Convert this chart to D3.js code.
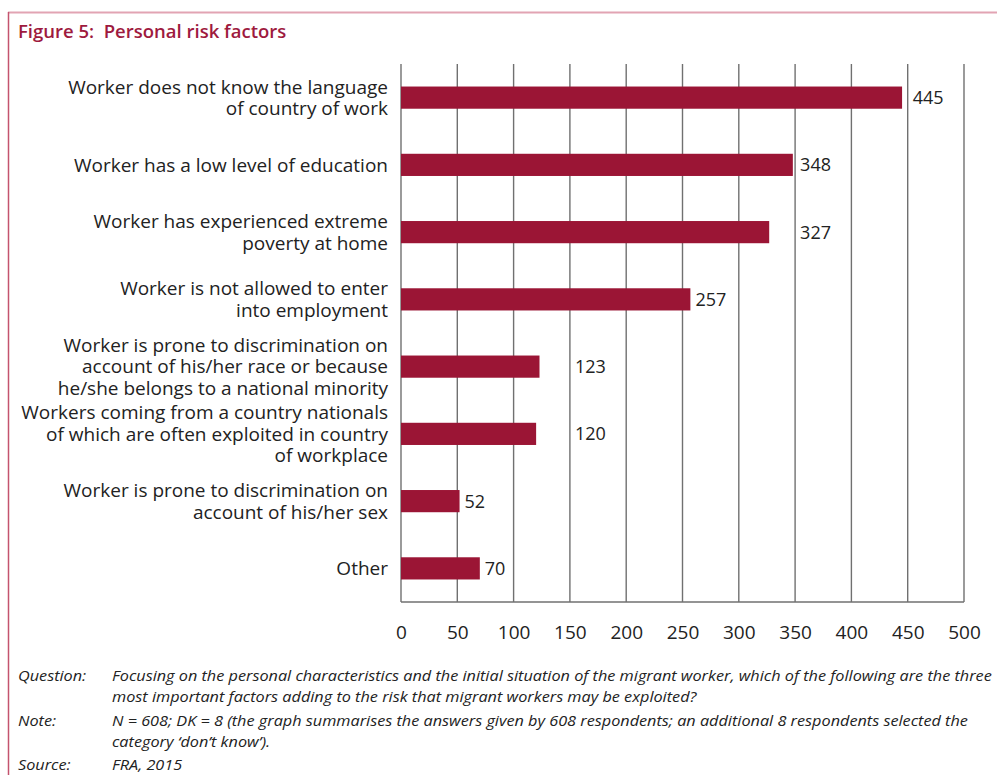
<!DOCTYPE html>
<html>
<head>
<meta charset="utf-8">
<script src="https://cdn.jsdelivr.net/npm/d3@7"></script>
<style>
  html, body { margin: 0; padding: 0; background: #fff; }
  svg { display: block; }
  text { font-family: "Open Sans", "Noto Sans", sans-serif; }
</style>
</head>
<body>
<script>
// ---------------- DATA ----------------
const categories = [
  ["Worker does not know the language", "of country of work"],
  ["Worker has a low level of education"],
  ["Worker has experienced extreme", "poverty at home"],
  ["Worker is not allowed to enter", "into employment"],
  ["Worker is prone to discrimination on", "account of his/her race or because", "he/she belongs to a national minority"],
  ["Workers coming from a country nationals", "of which are often exploited in country", "of workplace"],
  ["Worker is prone to discrimination on", "account of his/her sex"],
  ["Other"]
];
const values = [445, 348, 327, 257, 123, 120, 52, 70];
const xTicks = [0, 50, 100, 150, 200, 250, 300, 350, 400, 450, 500];
const titleText = "Figure 5:  Personal risk factors";
const footnotes = [
  { label: "Question:", lines: ["Focusing on the personal characteristics and the initial situation of the migrant worker, which of the following are the three", "most important factors adding to the risk that migrant workers may be exploited?"] },
  { label: "Note:", lines: ["N = 608; DK = 8 (the graph summarises the answers given by 608 respondents; an additional 8 respondents selected the", "category \u2018don\u2019t know\u2019)."] },
  { label: "Source:", lines: ["FRA, 2015"] }
];

// ---------------- LAYOUT ----------------
const W = 997, H = 775;
const plot = { left: 401, right: 964, top: 64, bottom: 602 };
const barColor = "#9b1535";
const gridColor = "#707070";

const svg = d3.select("body").append("svg").attr("width", W).attr("height", H);

// frame
svg.append("line").attr("x1", 8).attr("x2", W).attr("y1", 12.5).attr("y2", 12.5)
  .attr("stroke", "#e2a4b3").attr("stroke-width", 2);
svg.append("line").attr("x1", 8.5).attr("x2", 8.5).attr("y1", 12).attr("y2", H)
  .attr("stroke", "#c4536e").attr("stroke-width", 1.5);

// title
svg.append("text").attr("x", 18).attr("y", 38)
  .attr("fill", "#9e1a3e").attr("font-size", 18.5).attr("font-weight", 600)
  .style("white-space", "pre")
  .text(titleText);

const x = d3.scaleLinear().domain([0, 500]).range([plot.left, plot.right]);
const y = d3.scaleBand().domain(d3.range(categories.length))
  .range([plot.top, plot.bottom]).paddingInner(0.67).paddingOuter(0.335);

// gridlines
const g = svg.append("g");
g.selectAll("line.grid").data(xTicks).join("line")
  .attr("class", "grid")
  .attr("x1", d => x(d)).attr("x2", d => x(d))
  .attr("y1", plot.top).attr("y2", plot.bottom)
  .attr("stroke", gridColor).attr("stroke-width", 1.4);
// bottom line
g.append("line").attr("x1", x(0)).attr("x2", x(500))
  .attr("y1", plot.bottom).attr("y2", plot.bottom)
  .attr("stroke", gridColor).attr("stroke-width", 1.4);

// x axis tick labels
const xAxis = d3.axisBottom(x).tickValues(xTicks).tickSize(0).tickPadding(0);
const ax = svg.append("g").attr("transform", `translate(0,${plot.bottom})`).call(xAxis);
ax.select(".domain").remove();
ax.selectAll("text").attr("y", 37).attr("dy", 0)
  .attr("font-size", 19).attr("fill", "#222")
  .attr("font-family", "'Open Sans', sans-serif");

// bars
g.selectAll("rect.bar").data(values).join("rect")
  .attr("class", "bar")
  .attr("x", x(0))
  .attr("y", (d, i) => y(i))
  .attr("width", d => x(d) - x(0))
  .attr("height", y.bandwidth())
  .attr("fill", barColor);

// value labels: placed after bar end, shifted past a gridline if it would overlap one
const gridX = xTicks.map(t => x(t));
const vl = g.selectAll("text.val").data(values).join("text")
  .attr("class", "val")
  .attr("y", (d, i) => y(i) + y.bandwidth() / 2)
  .attr("dy", "0.36em")
  .attr("font-size", 18).attr("fill", "#222")
  .text(d => d);
vl.each(function(d) {
  const w = this.getComputedTextLength();
  let sx = x(d) + 5;
  gridX.forEach(gx => { if (gx > sx - 4 && gx < sx + w + 2) sx = gx + 5; });
  d3.select(this).attr("x", sx);
});

// category labels
const lineH = 21.5;
const cl = svg.append("g").selectAll("text.cat").data(categories).join("text")
  .attr("class", "cat")
  .attr("text-anchor", "end")
  .attr("font-size", 19).attr("fill", "#222");
cl.each(function(lines, i) {
  const cy = y(i) + y.bandwidth() / 2;
  const y0 = cy - (lines.length - 1) * lineH / 2;
  d3.select(this).selectAll("tspan").data(lines).join("tspan")
    .attr("x", 388)
    .attr("y", (l, j) => y0 + j * lineH)
    .attr("dy", "0.36em")
    .text(l => l);
});

// footnotes
const fn = svg.append("g").attr("font-style", "italic").attr("font-size", 15)
  .attr("font-weight", 500).attr("fill", "#222");
const fnLineH = 21;
const fnBaselines = [681, 726, 770];
const probe = fn.append("text").text(footnotes[0].lines[0]);
const natural = probe.node().getComputedTextLength();
probe.remove();
const sxScale = 881 / natural;
footnotes.forEach((f, k) => {
  const gg = fn.append("g").attr("transform", `translate(0,${fnBaselines[k]}) scale(${sxScale},1)`);
  gg.append("text").attr("x", 18 / sxScale).attr("y", 0).text(f.label);
  f.lines.forEach((l, j) => {
    gg.append("text").attr("x", 112 / sxScale).attr("y", j * fnLineH).text(l);
  });
});
</script>
</body>
</html>
